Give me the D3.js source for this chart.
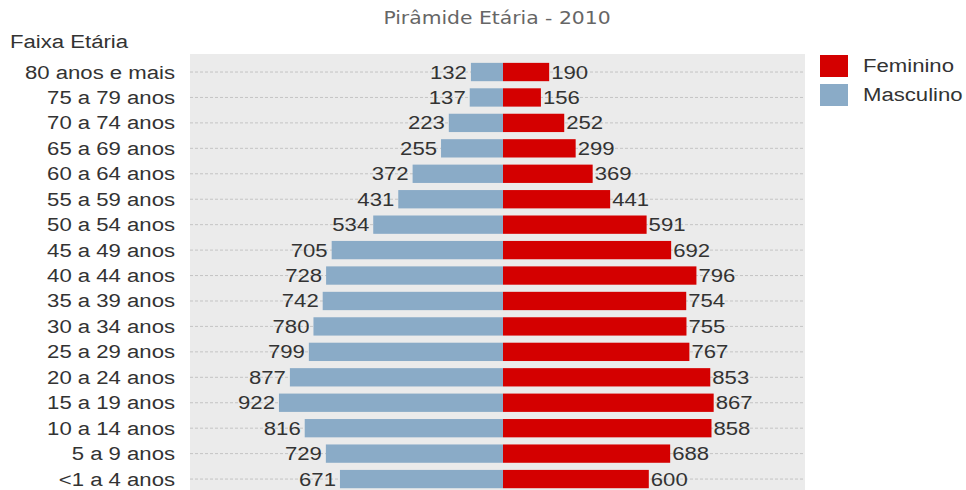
<!DOCTYPE html>
<html>
<head>
<meta charset="utf-8">
<script src="https://cdn.jsdelivr.net/npm/d3@7"></script>
<style>
  body { margin: 0; background: #fff; }
  text { font-family: "Liberation Sans", Arial, sans-serif; }
</style>
</head>
<body>
<div id="chart"></div>
<script>
var ageGroups = ["80 anos e mais", "75 a 79 anos", "70 a 74 anos", "65 a 69 anos",
    "60 a 64 anos", "55 a 59 anos", "50 a 54 anos", "45 a 49 anos", "40 a 44 anos",
    "35 a 39 anos", "30 a 34 anos", "25 a 29 anos", "20 a 24 anos", "15 a 19 anos",
    "10 a 14 anos", "5 a 9 anos", "<1 a 4 anos"];
var masculino = [132, 137, 223, 255, 372, 431, 534, 705, 728, 742, 780, 799, 877, 922, 816, 729, 671];
var feminino = [190, 156, 252, 299, 369, 441, 591, 692, 796, 754, 755, 767, 853, 867, 858, 688, 600];
var seriesNames = ["Feminino", "Masculino"];

var width = 966, height = 490;
var panelLeft = 190, panelRight = 805, panelTop = 54;
var center = 503;
var pxPerUnit = 0.243;
// the source picture is stretched sideways, so text gets the same stretch
var stretch = 1.23;

var svg = d3.select("#chart").append("svg")
    .attr("width", width)
    .attr("height", height);

var xLeft = d3.scaleLinear()
    .domain([0, (center - panelLeft) / pxPerUnit])
    .range([center, panelLeft]);
var xRight = d3.scaleLinear()
    .domain([0, (panelRight - center) / pxPerUnit])
    .range([center, panelRight]);

var y = d3.scaleBand()
    .domain(ageGroups)
    .range([59.3, 59.3 + 25.44 * ageGroups.length])
    .paddingInner(0.28)
    .paddingOuter(0.14);

function mid(d) { return y(d) + y.bandwidth() / 2; }

// panel background
svg.append("rect")
    .attr("x", panelLeft)
    .attr("y", panelTop)
    .attr("width", panelRight - panelLeft)
    .attr("height", height - panelTop)
    .style("fill", "#ebebeb");

// dashed gridlines
svg.append("g").selectAll("line")
    .data(ageGroups)
    .join("line")
    .attr("x1", panelLeft)
    .attr("x2", panelRight)
    .attr("y1", mid)
    .attr("y2", mid)
    .style("stroke", "#c4c4c4")
    .style("stroke-width", 1)
    .style("stroke-dasharray", "3,2");

// masculino bars
svg.append("g").selectAll("rect")
    .data(ageGroups)
    .join("rect")
    .attr("x", function(d, i) { return xLeft(masculino[i]); })
    .attr("y", function(d) { return y(d); })
    .attr("width", function(d, i) { return center - xLeft(masculino[i]); })
    .attr("height", y.bandwidth())
    .style("fill", "#8aabc7");

// feminino bars
svg.append("g").selectAll("rect")
    .data(ageGroups)
    .join("rect")
    .attr("x", center)
    .attr("y", function(d) { return y(d); })
    .attr("width", function(d, i) { return xRight(feminino[i]) - center; })
    .attr("height", y.bandwidth())
    .style("fill", "#d40000");

// value labels
svg.append("g").selectAll("text")
    .data(ageGroups)
    .join("text")
    .attr("transform", function(d, i) {
        return "translate(" + (xLeft(masculino[i]) - 4) + "," + mid(d) + ") scale(" + stretch + ",1)";
    })
    .attr("dy", "0.36em")
    .attr("text-anchor", "end")
    .style("font-size", "18px")
    .style("fill", "#333")
    .text(function(d, i) { return masculino[i]; });

svg.append("g").selectAll("text")
    .data(ageGroups)
    .join("text")
    .attr("transform", function(d, i) {
        return "translate(" + (xRight(feminino[i]) + 2) + "," + mid(d) + ") scale(" + stretch + ",1)";
    })
    .attr("dy", "0.36em")
    .attr("text-anchor", "start")
    .style("font-size", "18px")
    .style("fill", "#333")
    .text(function(d, i) { return feminino[i]; });

// category axis
var yAxis = svg.append("g")
    .attr("transform", "translate(" + (panelLeft - 15) + ",0)")
    .call(d3.axisLeft(y).tickSize(0).tickPadding(0));
yAxis.select(".domain").remove();
yAxis.selectAll("text")
    .attr("x", 0)
    .attr("transform", "scale(" + stretch + ",1)")
    .attr("dy", "0.36em")
    .style("font-family", "'Liberation Sans', Arial, sans-serif")
    .style("font-size", "18px")
    .style("fill", "#333");

// titles
svg.append("text")
    .attr("transform", "translate(497,24) scale(1.13,1)")
    .attr("text-anchor", "middle")
    .style("font-family", "'DejaVu Sans', Verdana, sans-serif")
    .style("font-size", "18px")
    .style("fill", "#666")
    .text("Pirâmide Etária - 2010");

svg.append("text")
    .attr("transform", "translate(10,48) scale(" + stretch + ",1)")
    .style("font-size", "18px")
    .style("fill", "#333")
    .text("Faixa Etária");

// legend
var legendColors = ["#d40000", "#8aabc7"];
var legend = svg.append("g").selectAll("g")
    .data(seriesNames)
    .join("g")
    .attr("transform", function(d, i) { return "translate(820," + (55 + i * 29) + ")"; });
legend.append("rect")
    .attr("width", 28)
    .attr("height", 22)
    .style("fill", function(d, i) { return legendColors[i]; });
legend.append("text")
    .attr("transform", "translate(43,11) scale(" + stretch + ",1)")
    .attr("dy", "0.36em")
    .style("font-size", "18px")
    .style("fill", "#333")
    .text(function(d) { return d; });
</script>
</body>
</html>
